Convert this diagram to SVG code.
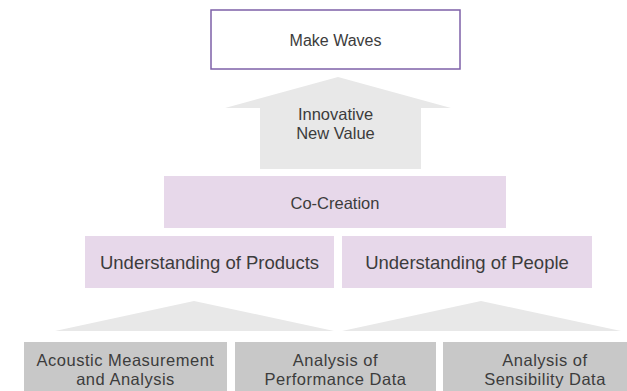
<svg xmlns="http://www.w3.org/2000/svg" width="627" height="391" viewBox="0 0 627 391">
<style>
text{font-family:"Liberation Sans",Arial,sans-serif;fill:#3c3c3c;text-anchor:middle}
.lav{fill:#e7d8ea}
.gray{fill:#c8c8c8}
.conn{fill:#e8e8e8}
.small{font-size:16.5px;letter-spacing:0.5px}
</style>
<rect width="627" height="391" fill="#ffffff"/>
<g id="connectors">
<polygon class="conn" points="338,77 451,108 421,108 421,169 260,169 260,108 225,108"/>
<polygon class="conn" points="55,331 194,301 334,331"/>
<polygon class="conn" points="342,331 481,301 621,331"/>
</g>
<g id="make-waves">
<rect x="211" y="10" width="249" height="59" fill="#ffffff" stroke="#7e60a8" stroke-width="1.5"/>
<text x="335.5" y="46" font-size="16">Make Waves</text>
</g>
<g id="innovative-new-value">
<text x="335.5" y="120" font-size="16.5">Innovative</text>
<text x="335.5" y="139" font-size="16.5">New Value</text>
</g>
<g id="co-creation">
<rect class="lav" x="164" y="176" width="342" height="52"/>
<text x="335" y="209" font-size="16.5">Co-Creation</text>
</g>
<g id="understanding-products">
<rect class="lav" x="85" y="236" width="249" height="52"/>
<text x="209.5" y="269" font-size="18.5">Understanding of Products</text>
</g>
<g id="understanding-people">
<rect class="lav" x="342" y="236" width="250" height="52"/>
<text x="467" y="269" font-size="18.5">Understanding of People</text>
</g>
<g id="acoustic">
<rect class="gray" x="24" y="342" width="203" height="49"/>
<text class="small" x="125.5" y="365.5">Acoustic Measurement</text>
<text class="small" x="125.5" y="384.5">and Analysis</text>
</g>
<g id="performance">
<rect class="gray" x="235" y="342" width="201" height="49"/>
<text class="small" x="335.5" y="365.5">Analysis of</text>
<text class="small" x="335.5" y="384.5">Performance Data</text>
</g>
<g id="sensibility">
<rect class="gray" x="443" y="342" width="202" height="49"/>
<text class="small" x="545" y="365.5">Analysis of</text>
<text class="small" x="545" y="384.5">Sensibility Data</text>
</g>
</svg>
